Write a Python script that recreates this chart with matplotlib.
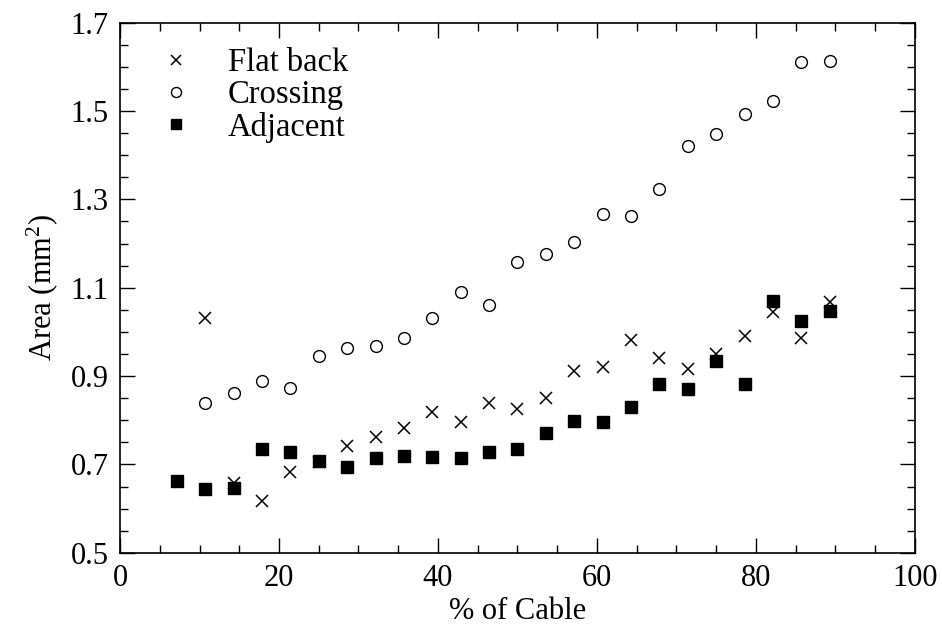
import numpy as np
import matplotlib
matplotlib.use("Agg")
import matplotlib.pyplot as plt
from matplotlib.ticker import MultipleLocator, FixedLocator, FormatStrFormatter

# Data (x = % of cable, y = area in mm^2)
flat_x = [10.71, 14.29, 17.86, 21.43, 25.00, 28.57, 32.14, 35.71, 39.29, 42.86, 46.43, 50.00,
          53.57, 57.14, 60.71, 64.29, 67.86, 71.43, 75.00, 78.57, 82.14, 85.71, 89.29]
flat_y = [1.032, 0.658, 0.618, 0.683, 0.705, 0.742, 0.761, 0.782, 0.819, 0.797, 0.840, 0.825,
          0.850, 0.912, 0.920, 0.982, 0.942, 0.917, 0.951, 0.990, 1.046, 0.987, 1.068]

cross_x = [10.71, 14.29, 17.86, 21.43, 25.00, 28.57, 32.14, 35.71, 39.29, 42.86, 46.43, 50.00,
           53.57, 57.14, 60.71, 64.29, 67.86, 71.43, 75.00, 78.57, 82.14, 85.71, 89.29]
cross_y = [0.840, 0.862, 0.888, 0.873, 0.945, 0.963, 0.968, 0.987, 1.031, 1.090, 1.061, 1.158,
           1.176, 1.203, 1.266, 1.262, 1.323, 1.421, 1.448, 1.494, 1.522, 1.611, 1.613]

adj_x = [7.14, 10.71, 14.29, 17.86, 21.43, 25.00, 28.57, 32.14, 35.71, 39.29, 42.86, 46.43, 50.00,
         53.57, 57.14, 60.71, 64.29, 67.86, 71.43, 75.00, 78.57, 82.14, 85.71, 89.29]
adj_y = [0.663, 0.644, 0.647, 0.734, 0.728, 0.708, 0.695, 0.715, 0.719, 0.717, 0.714, 0.729, 0.736,
         0.772, 0.799, 0.797, 0.830, 0.881, 0.871, 0.934, 0.882, 1.070, 1.024, 1.048]

y_ticks = [0.5, 0.7, 0.9, 1.1, 1.3, 1.5, 1.7]

plt.rcParams['font.family'] = ['Liberation Serif', 'DejaVu Serif']
plt.rcParams['mathtext.default'] = 'regular'

fig = plt.figure(figsize=(9.42, 6.31), dpi=100)
ax = fig.add_axes([0.1274, 0.124, 0.8439, 0.840])

ax.plot(flat_x, flat_y, 'x', color='black', markersize=9, markeredgewidth=1.1, label='Flat back')
ax.plot(cross_x, cross_y, 'o', color='black', markerfacecolor='none', markersize=8.5,
        markeredgewidth=1.0, label='Crossing')
ax.plot(adj_x, adj_y, 's', color='black', markersize=8.5, label='Adjacent')

ax.set_xlim(0, 100)
ax.set_ylim(0.5, 1.7)
ax.xaxis.set_major_locator(MultipleLocator(20))
ax.xaxis.set_minor_locator(MultipleLocator(5))
ax.yaxis.set_major_locator(FixedLocator(y_ticks))
ax.yaxis.set_minor_locator(MultipleLocator(0.05))
ax.yaxis.set_major_formatter(FormatStrFormatter('%.1f'))
ax.tick_params(which='both', direction='in', top=True, right=True, labelsize=22, width=1.0)
ax.tick_params(which='major', length=11, pad=8)
ax.tick_params(which='minor', length=6)
for s in ax.spines.values():
    s.set_linewidth(1.2)

ax.set_xlabel('% of Cable', fontsize=22, labelpad=3)
ax.set_ylabel('Area (mm$^2$)', fontsize=22, labelpad=8)

ax.legend(loc='upper left', frameon=False, fontsize=23.5, handlelength=1.0, handletextpad=1.1,
          labelspacing=0.05, borderaxespad=0.0, bbox_to_anchor=(0.033, 0.978), markerscale=0.85)

fig.savefig('out.png', dpi=100)
